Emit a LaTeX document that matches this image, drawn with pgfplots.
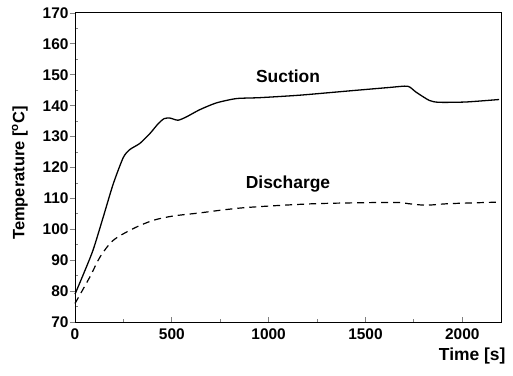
\documentclass[border=0pt]{standalone}
\usepackage{pgfplots}
\pgfplotsset{compat=1.18}
\usepackage{fontspec}
\setmainfont{Liberation Sans}

\begin{document}
\begin{tikzpicture}
\begin{axis}[
  name=ax,
  scale only axis,
  width=426bp, height=309bp,
  xmin=0, xmax=2200,
  ymin=70, ymax=170,
  xtick={0,500,1000,1500,2000},
  ytick={70,80,...,170},
  minor x tick num=1,
  minor y tick num=1,
  xtick pos=left, ytick pos=left,
  x tick style={line width=0.8pt},
  y tick style={line width=0.8pt},
  major tick length=5bp,
  minor tick length=3bp,
  major y tick style={xshift=-5bp},
  axis line style={line width=1pt},
  tick label style={font=\fontsize{15.5}{15.5}\selectfont\bfseries},
  xticklabel style={yshift=-3bp},
  yticklabel style={xshift=-3bp},
  /pgf/number format/assume math mode=true,
  /pgf/number format/1000 sep={},
  ylabel={Temperature [\textsuperscript{o}C]},
  ylabel style={font=\fontsize{16.5}{16.5}\selectfont\bfseries,
    at={(ticklabel cs:0.482)}, yshift=8bp},
  xlabel={Time [s]},
  xlabel style={font=\fontsize{17.5}{17.5}\selectfont\bfseries,
    at={(rel axis cs:1,0)}, anchor=north east, xshift=8bp, yshift=-22bp},
  clip=false,
]
% suction temperature
\addplot[black, line width=1.3pt, smooth, tension=0.4] coordinates {
  (0,79) (47,86) (94,93.4) (146,104) (197,114.6) (249,123.2)
  (283,125.8) (335,127.8) (387,131) (430,134.2) (460,135.8) (490,136)
  (532,135.3) (576,136.4) (644,138.7) (730,140.9) (833,142.3)
  (954,142.6) (1160,143.4) (1418,144.8) (1624,145.9) (1718,146.3)
  (1761,144.4) (1830,141.7) (1881,141.1) (2019,141.2) (2190,142)
};
% discharge temperature
\addplot[black, line width=1.2pt, smooth, tension=0.5,
  dash pattern=on 7bp off 5bp] coordinates {
  (0,76) (77,84.6) (129,91) (197,96.4) (300,100.2) (404,102.9)
  (507,104.3) (644,105.3) (782,106.4) (919,107.2) (1246,108.3)
  (1641,108.7) (1720,108.3) (1813,107.8) (1933,108.3) (2190,108.8)
};
\node[font=\fontsize{17.5}{17.5}\selectfont\bfseries] at (axis cs:1100,149.5) {Suction};
\node[font=\fontsize{17.5}{17.5}\selectfont\bfseries] at (axis cs:1100,114.6) {Discharge};
\end{axis}
\pgfresetboundingbox
\path ([shift={(-75bp,-54bp)}]ax.south west) rectangle ([shift={(12bp,13bp)}]ax.north east);
\end{tikzpicture}
\end{document}
